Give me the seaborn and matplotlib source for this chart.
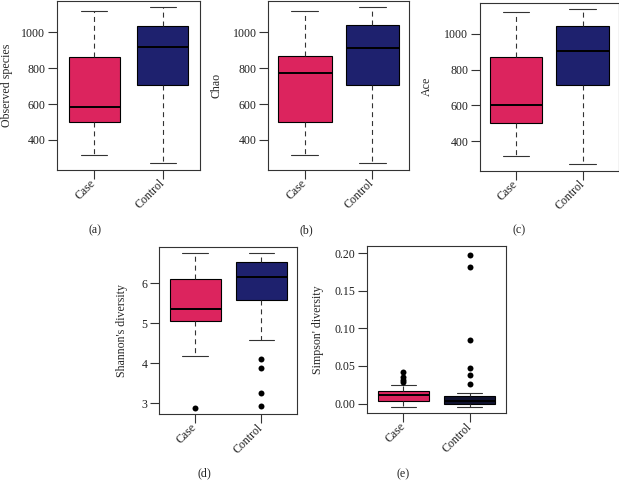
import numpy as np
import pandas as pd
import matplotlib
matplotlib.use("Agg")
import matplotlib.pyplot as plt
import seaborn as sns

groups = ["Case", "Control"]

# five-number summaries: [lower whisker, Q1, median, Q3, upper whisker]
observed_case = [314, 497, 585, 865, 1120]
observed_control = [269, 704, 917, 1037, 1140]
chao_case = [314, 499, 773, 869, 1120]
chao_control = [269, 706, 913, 1040, 1140]
ace_case = [316, 501, 600, 868, 1120]
ace_control = [271, 711, 901, 1043, 1138]
shannon_case = [4.18, 5.06, 5.34, 6.11, 6.76]
shannon_control = [4.59, 5.58, 6.16, 6.52, 6.76]
simpson_case = [-0.0052, 0.0039, 0.0108, 0.0173, 0.0243]
simpson_control = [-0.0052, -0.0009, 0.0030, 0.0099, 0.0143]

# outliers
shannon_case_out = [2.87]
shannon_control_out = [4.11, 3.87, 3.25, 2.94]
simpson_case_out = [0.0417, 0.0347, 0.0315, 0.0282]
simpson_control_out = [0.1978, 0.1817, 0.0839, 0.0470, 0.0378, 0.0256]

ylabels = ["Observed species", "Chao", "Ace", "Shannon's diversity", "Simpson' diversity"]
letters = ["(a)", "(b)", "(c)", "(d)", "(e)"]

sns.set_theme(style="ticks")
plt.rcParams["font.family"] = ["Liberation Serif", "DejaVu Serif"]

W, H = 619, 480
fig = plt.figure(figsize=(W / 100, H / 100), dpi=100)

PINK = "#dc245e"
NAVY = "#1e216e"
DARK = "#10122f"
FS = 8.6


def panel(rect, case, control, case_out, control_out, ylabel, ylim, yticks,
          fmt, width, colors, ylab_x, letter, letter_xy):
    l, r, t, b = rect
    ax = fig.add_axes([l / W, 1 - b / H, (r - l) / W, (b - t) / H])
    df = pd.DataFrame({"group": ["Case"] * len(case) + ["Control"] * len(control),
                       "value": list(case) + list(control)})
    sns.boxplot(data=df, x="group", y="value", hue="group", order=groups,
                hue_order=groups, palette=colors, saturation=1, width=width,
                whis=(0, 100), linecolor="black", linewidth=0.8, legend=False,
                dodge=False, showfliers=False, ax=ax,
                medianprops={"linewidth": 1.4, "color": "black"},
                whiskerprops={"linestyle": (0, (4.5, 3.5)), "linewidth": 0.8, "color": "#333333"},
                capprops={"linewidth": 0.8, "color": "#333333"})
    out = pd.DataFrame({"group": ["Case"] * len(case_out) + ["Control"] * len(control_out),
                        "value": list(case_out) + list(control_out)})
    if len(out):
        sns.stripplot(data=out, x="group", y="value", order=groups, jitter=False,
                      color="black", size=4.3, linewidth=0, ax=ax)
    ax.set_xlim(-0.54, 1.54)
    ax.set_ylim(*ylim)
    ax.set_yticks(yticks)
    ax.set_yticklabels([fmt.format(v) for v in yticks])
    ax.set_xticks([0, 1])
    ax.set_xticklabels(groups, rotation=45, ha="right", va="center",
                       rotation_mode="anchor")
    ax.set_xlabel("")
    ax.set_ylabel(ylabel, fontsize=FS, va="center")
    ax.yaxis.set_label_coords((ylab_x - l) / (r - l), 0.5)
    ax.tick_params(direction="out", length=6.5, width=0.8, labelsize=FS, pad=2,
                   color="#333333", labelcolor="#222222")
    for s in ax.spines.values():
        s.set_linewidth(0.8)
        s.set_color("#333333")
        s.set_visible(True)
    fig.text(letter_xy[0] / W, 1 - letter_xy[1] / H, letter, ha="center",
             va="center", fontsize=FS, color="#222222")
    return ax


panel((57, 200, 1.1, 169.5), observed_case, observed_control, [], [], ylabels[0],
      (234.2, 1174.8), [400, 600, 800, 1000], "{:.0f}", 0.74, [PINK, NAVY], 7,
      letters[0], (95, 230))
panel((268.3, 409, 1.1, 169.5), chao_case, chao_control, [], [], ylabels[1],
      (234.2, 1174.8), [400, 600, 800, 1000], "{:.0f}", 0.79, [PINK, NAVY], 216,
      letters[1], (306, 230))
panel((480, 618.5, 2.8, 170.5), ace_case, ace_control, [], [], ylabels[2],
      (236.3, 1172.7), [400, 600, 800, 1000], "{:.0f}", 0.79, [PINK, NAVY], 427,
      letters[2], (519, 230))
panel((159.3, 297.3, 247, 414), shannon_case, shannon_control, shannon_case_out,
      shannon_control_out, ylabels[3], (2.73, 6.90), [3, 4, 5, 6], "{:.0f}", 0.77,
      [PINK, NAVY], 121.7, letters[3], (204, 473))
panel((367.3, 505.7, 245.7, 413), simpson_case, simpson_control, simpson_case_out,
      simpson_control_out, ylabels[4], (-0.0126, 0.2099),
      [0.00, 0.05, 0.10, 0.15, 0.20], "{:.2f}", 0.76, [PINK, DARK], 318,
      letters[4], (403, 474))

fig.savefig("out.png", dpi=100)
